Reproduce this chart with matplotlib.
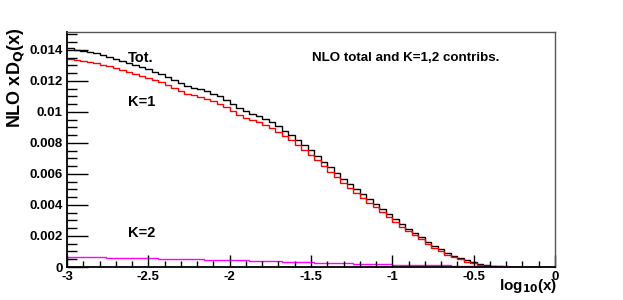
import numpy as np
import matplotlib
matplotlib.use("Agg")
import matplotlib.pyplot as plt
from matplotlib.ticker import MultipleLocator, FuncFormatter

# ---- data (75 bins in log10(x) from -3 to 0) ----
x_min, x_max, n_bins = -3.0, 0.0, 75

tot = [0.01411, 0.01403, 0.01395, 0.01386, 0.01378, 0.01368, 0.01355, 0.01342,
       0.01329, 0.01316, 0.01303, 0.01289, 0.01275, 0.01261, 0.01247, 0.01226,
       0.01205, 0.01185, 0.01168, 0.01157, 0.01146, 0.01134, 0.01118, 0.01100,
       0.01076, 0.01051, 0.01025, 0.01005, 0.00990, 0.00975, 0.00955, 0.00934,
       0.00908, 0.00880, 0.00851, 0.00822, 0.00789, 0.00753, 0.00717, 0.00680,
       0.00643, 0.00607, 0.00570, 0.00533, 0.00500, 0.00468, 0.00436, 0.00404,
       0.00371, 0.00339, 0.00307, 0.00276, 0.00248, 0.00220, 0.00191, 0.00160,
       0.00136, 0.00113, 0.00090, 0.00072, 0.00057, 0.00042, 0.00030, 0.00020,
       0.00012, 0.00007, 0.00004, 0.00002, 0.00001, 0.000005, 0.000003, 0.000001,
       0.0, 0.0, 0.0]

k1 = [0.01345, 0.01338, 0.01331, 0.01322, 0.01315, 0.01306, 0.01294, 0.01282,
      0.01270, 0.01258, 0.01245, 0.01232, 0.01219, 0.01206, 0.01193, 0.01173,
      0.01152, 0.01133, 0.01117, 0.01107, 0.01097, 0.01086, 0.01071, 0.01053,
      0.01030, 0.01006, 0.00981, 0.00963, 0.00949, 0.00935, 0.00916, 0.00896,
      0.00872, 0.00845, 0.00817, 0.00789, 0.00757, 0.00723, 0.00688, 0.00652,
      0.00616, 0.00581, 0.00545, 0.00509, 0.00478, 0.00447, 0.00416, 0.00385,
      0.00353, 0.00322, 0.00291, 0.00261, 0.00234, 0.00206, 0.00178, 0.00148,
      0.00125, 0.00102, 0.00080, 0.00063, 0.00049, 0.00035, 0.00024, 0.00016,
      0.00009, 0.00005, 0.00003, 0.00002, 0.00001, 0.000005, 0.000002, 0.000001,
      0.0, 0.0, 0.0]

k2 = [0.00066, 0.00065, 0.00064, 0.00064, 0.00063, 0.00062, 0.00061, 0.00060,
      0.00059, 0.00058, 0.00058, 0.00057, 0.00056, 0.00055, 0.00054, 0.00053,
      0.00053, 0.00052, 0.00051, 0.00050, 0.00049, 0.00048, 0.00047, 0.00047,
      0.00046, 0.00045, 0.00044, 0.00042, 0.00041, 0.00040, 0.00039, 0.00038,
      0.00036, 0.00035, 0.00034, 0.00033, 0.00032, 0.00030, 0.00029, 0.00028,
      0.00027, 0.00026, 0.00025, 0.00024, 0.00022, 0.00021, 0.00020, 0.00019,
      0.00018, 0.00017, 0.00016, 0.00015, 0.00014, 0.00014, 0.00013, 0.00012,
      0.00011, 0.00011, 0.00010, 0.00009, 0.00008, 0.00007, 0.00006, 0.00006,
      0.00005, 0.00005, 0.00004, 0.00004, 0.00003, 0.00003, 0.00002, 0.00002,
      0.00001, 0.00001, 0.0]

y_ticks = [0, 0.002, 0.004, 0.006, 0.008, 0.01, 0.012, 0.014]
x_ticks = [-3, -2.5, -2, -1.5, -1, -0.5, 0]

plt.rcParams['font.family'] = ['Liberation Sans', 'DejaVu Sans']
plt.rcParams['font.weight'] = 'bold'

fig = plt.figure(figsize=(6.23, 3.0), dpi=100)
ax = fig.add_axes([67/623, 33/300, (555-67)/623, (267-32)/300])

edges = np.linspace(x_min, x_max, n_bins + 1)
ax.stairs(tot, edges, color='black', lw=1.0, baseline=None)
ax.stairs(k1, edges, color='#ff0000', lw=1.0, baseline=None)
ax.stairs(k2, edges, color='#ff00ff', lw=1.0, baseline=None)

ax.set_xlim(x_min, x_max)
ax.set_ylim(0, 0.01516)

ax.set_xticks(x_ticks)
ax.set_yticks(y_ticks)
ax.xaxis.set_minor_locator(MultipleLocator(0.1))
ax.yaxis.set_minor_locator(MultipleLocator(0.0005))

def fmt(v, p):
    return '%g' % v
ax.xaxis.set_major_formatter(FuncFormatter(fmt))
ax.yaxis.set_major_formatter(FuncFormatter(fmt))

ax.tick_params(axis='both', which='both', direction='in', labelsize=9.5,
               top=False, right=False)
ax.tick_params(axis='y', which='major', length=15, width=1, pad=3)
ax.tick_params(axis='y', which='minor', length=7.5, width=1)
ax.tick_params(axis='x', which='major', length=9, width=1, pad=3)
ax.tick_params(axis='x', which='minor', length=4.5, width=1)
for lab in ax.get_xticklabels() + ax.get_yticklabels():
    lab.set_fontweight('bold')

for s in ['left', 'bottom']:
    ax.spines[s].set_color('black')
    ax.spines[s].set_linewidth(1.3)
for s in ['top', 'right']:
    ax.spines[s].set_color('#555555')
    ax.spines[s].set_linewidth(1.0)

fig.text(16/623, 1 - 78/300, r'NLO xD$_\mathbf{Q}$(x)', rotation=90,
         fontsize=13, fontweight='bold', ha='center', va='center')
fig.text(557/623, 1 - 286/300, r'log$_\mathbf{10}$(x)', fontsize=11,
         fontweight='bold', ha='right', va='center')

ax.text(-2.625, 0.01346, 'Tot.', fontsize=10.5, fontweight='bold', ha='left', va='center')
ax.text(-2.625, 0.01065, 'K=1', fontsize=10.5, fontweight='bold', ha='left', va='center')
ax.text(-2.625, 0.00219, 'K=2', fontsize=10.5, fontweight='bold', ha='left', va='center')
ax.text(-1.494, 0.01346, 'NLO total and K=1,2 contribs.', fontsize=9.6,
        fontweight='bold', ha='left', va='center')

fig.savefig('out.png', dpi=100)
